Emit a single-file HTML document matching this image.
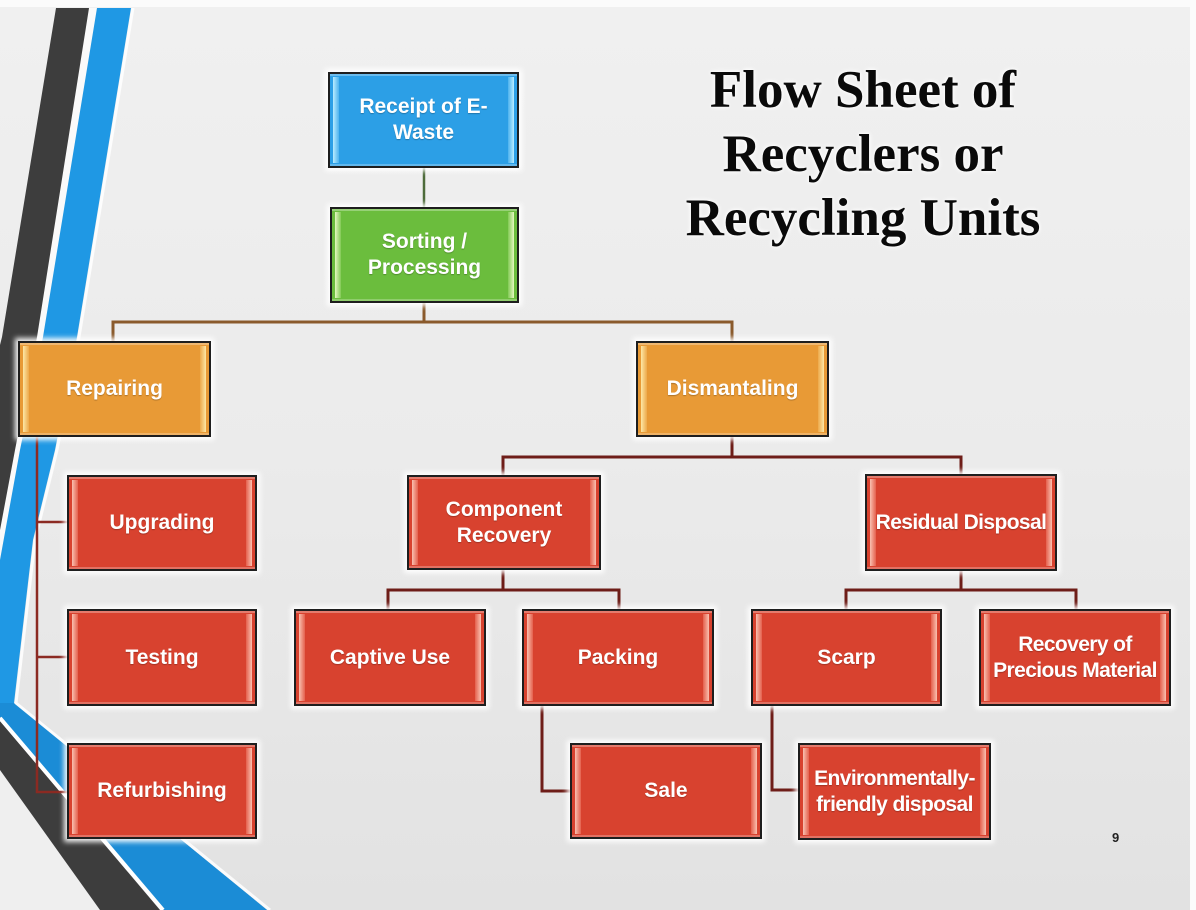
<!DOCTYPE html>
<html>
<head>
<meta charset="utf-8">
<style>
  html,body{margin:0;padding:0;}
  body{width:1196px;height:910px;overflow:hidden;}
  #s{position:relative;width:1196px;height:910px;overflow:hidden;
     background:linear-gradient(180deg,#f0f0f0 0%,#ebebeb 50%,#e2e2e2 100%);}
  .bt{position:absolute;left:0;top:0;width:1196px;height:7px;background:#fbfbfb;}
  .br{position:absolute;right:0;top:0;width:6px;height:910px;background:#fbfbfb;}
  svg{position:absolute;left:0;top:0;}
  .b{position:absolute;box-sizing:border-box;border:2px solid #1e1e1e;
     display:flex;align-items:center;justify-content:center;text-align:center;
     color:#fff;font:bold 21px/26px "Liberation Sans",sans-serif;white-space:nowrap;
     box-shadow:0 0 5px 3px rgba(255,255,255,.95),inset 0 3px 0 -1px rgba(255,255,255,.3),inset 0 -3px 0 -1px rgba(255,255,255,.25);
     overflow:hidden;text-shadow:0 1px 1px rgba(0,0,0,.25);}
  .b::before,.b::after{content:"";position:absolute;top:3px;bottom:3px;width:6px;}
  .b::before{left:3px;}
  .b::after{right:3px;}
  .red{background:#d8422f;}
  .red::before{background:linear-gradient(90deg,#f9c0b0,#e4604d);}
  .red::after{background:linear-gradient(270deg,#f9c0b0,#e4604d);}
  .org{background:#e89a36;}
  .org::before{background:linear-gradient(90deg,#fde7a6,#eda94a);}
  .org::after{background:linear-gradient(270deg,#fde7a6,#eda94a);}
  .blu{background:#2c9fe6;}
  .blu::before{background:linear-gradient(90deg,#b8ecff,#4cb2ee);}
  .blu::after{background:linear-gradient(270deg,#b8ecff,#4cb2ee);}
  .grn{background:#6bbd3d;}
  .grn::before{background:linear-gradient(90deg,#e4f8c0,#82c955);}
  .grn::after{background:linear-gradient(270deg,#e4f8c0,#82c955);}
  .t{position:relative;z-index:2;}
  .title{position:absolute;left:663px;top:58px;width:400px;text-align:center;
     font:bold 53px/64px "Liberation Serif",serif;color:#0a0a0a;
     text-shadow:0 0 6px #fff,0 0 3px #fff;}
  .pg{position:absolute;left:1112px;top:830px;font:bold 13px "Liberation Sans",sans-serif;color:#222;}
</style>
</head>
<body>
<div id="s">
  <div class="bt"></div>
  <div class="br"></div>
  <svg width="1196" height="910" viewBox="0 0 1196 910">
    <polygon points="0,770 100,910 0,910" fill="#efefef"/>
    <polygon points="89,8 97,8 43,337 20,450 0,560 0,530 15,450 37,337" fill="#fafafa"/>
    <polygon points="56,8 89,8 37,337 15,450 0,530 0,345 2,337" fill="#3d3d3d"/>
    <polygon points="97,8 131,8 77,337 55,450 33,540 14,703 267,910 163,910 0,717 0,560 20,450 43,337" fill="#1f98e4"/>
    <polygon points="0,703 14,703 267,910 163,910 0,717" fill="#1b8cd6"/>
    <polyline points="133,8 79,337 57,450 35,540 16,703 270,910" fill="none" stroke="#ffffff" stroke-width="3" opacity="0.85"/>
    <polygon points="0,721 160,910 100,910 0,770" fill="#3d3d3d"/>
    <line x1="0" y1="718" x2="163" y2="910" stroke="#ffffff" stroke-width="4"/>

    <g fill="none" stroke-linecap="square">
      <line x1="424" y1="168" x2="424" y2="207" stroke="#4d6b3a" stroke-width="2.5"/>
      <path d="M424 303 V322 M113 341 V322 H732 V341" stroke="#8a5a2c" stroke-width="3"/>
      <path d="M37 437 V792 H67 M37 522 H67 M37 657 H67" stroke="#8b2a22" stroke-width="2.5"/>
      <path d="M732 437 V457 M503 475 V457 H961 V474" stroke="#6e1d18" stroke-width="3"/>
      <path d="M503 570 V590 M388 609 V590 H619 V609" stroke="#6e1d18" stroke-width="3"/>
      <path d="M542 706 V791 H570" stroke="#6e1d18" stroke-width="3"/>
      <path d="M961 571 V590 M846 609 V590 H1076 V609" stroke="#6e1d18" stroke-width="3"/>
      <path d="M772 706 V790 H798" stroke="#6e1d18" stroke-width="3"/>
    </g>
  </svg>

  <div class="title">Flow Sheet of<br>Recyclers or<br>Recycling Units</div>

  <div class="b blu" style="left:328px;top:72px;width:191px;height:96px;"><span class="t">Receipt of E-<br>Waste</span></div>
  <div class="b grn" style="left:330px;top:207px;width:189px;height:96px;"><span class="t">Sorting /<br>Processing</span></div>

  <div class="b org" style="left:18px;top:341px;width:193px;height:96px;"><span class="t">Repairing</span></div>
  <div class="b org" style="left:636px;top:341px;width:193px;height:96px;"><span class="t">Dismantaling</span></div>

  <div class="b red" style="left:67px;top:475px;width:190px;height:96px;"><span class="t">Upgrading</span></div>
  <div class="b red" style="left:67px;top:609px;width:190px;height:97px;"><span class="t">Testing</span></div>
  <div class="b red" style="left:67px;top:743px;width:190px;height:96px;"><span class="t">Refurbishing</span></div>

  <div class="b red" style="left:407px;top:475px;width:194px;height:95px;"><span class="t">Component<br>Recovery</span></div>
  <div class="b red" style="left:865px;top:474px;width:192px;height:97px;"><span class="t" style="letter-spacing:-0.6px;">Residual Disposal</span></div>

  <div class="b red" style="left:294px;top:609px;width:192px;height:97px;"><span class="t">Captive Use</span></div>
  <div class="b red" style="left:522px;top:609px;width:192px;height:97px;"><span class="t">Packing</span></div>
  <div class="b red" style="left:751px;top:609px;width:191px;height:97px;"><span class="t">Scarp</span></div>
  <div class="b red" style="left:979px;top:609px;width:192px;height:97px;"><span class="t" style="letter-spacing:-0.6px;">Recovery of<br>Precious Material</span></div>

  <div class="b red" style="left:570px;top:743px;width:192px;height:96px;"><span class="t">Sale</span></div>
  <div class="b red" style="left:798px;top:743px;width:193px;height:97px;"><span class="t" style="letter-spacing:-0.6px;">Environmentally-<br>friendly disposal</span></div>

  <div class="pg">9</div>
</div>
</body>
</html>
